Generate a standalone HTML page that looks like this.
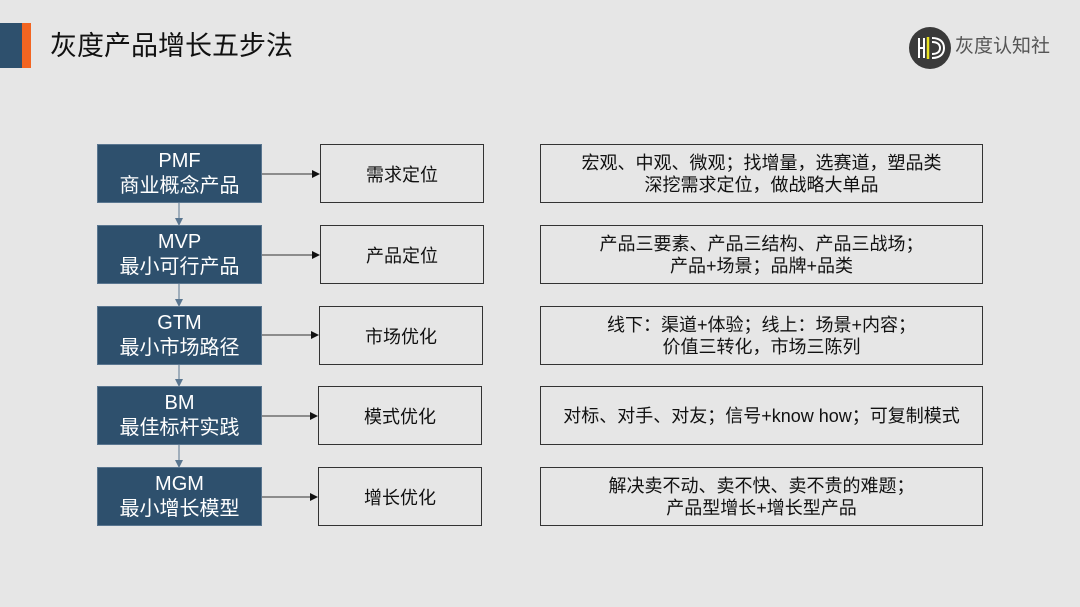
<!DOCTYPE html>
<html><head><meta charset="utf-8"><style>
body{margin:0;width:1080px;height:607px;background:#e6e6e6;position:relative;overflow:hidden;font-family:"Liberation Sans","Noto Sans CJK SC",sans-serif}
.a{position:absolute;box-sizing:border-box;display:flex;align-items:center;justify-content:center;text-align:center}
.d{background:#2e506d;color:#fff;font-size:20px;line-height:25px;left:97px;width:165px;height:59px;border:1px solid #5a7690}
.m{border:1.5px solid #333;font-size:18px;color:#111;width:164px;height:59px}
.r{border:1.5px solid #333;font-size:18px;line-height:22px;color:#111;left:540px;width:443px;height:59px}
</style></head><body>
<div style="position:absolute;left:0;top:23px;width:22px;height:45px;background:#2e506d"></div>
<div style="position:absolute;left:22px;top:23px;width:9px;height:45px;background:#f26522"></div>
<div style="position:absolute;left:50px;top:28px;font-size:27px;color:#111;line-height:36px">灰度产品增长五步法</div>
<svg style="position:absolute;left:908px;top:26px" width="44" height="44" viewBox="0 0 44 44">
<circle cx="22" cy="22" r="21" fill="#3a3a3a"/>
<g stroke="#fff" stroke-width="2" fill="none"><path d="M11 12v20M16 12v20M11 22h5"/><path d="M24 12c9 0 12 5 12 10s-3 10-12 10"/><path d="M24 16c5 0 8 2 8 6s-3 6-8 6"/></g>
<path d="M20 11v22" stroke="#e8e020" stroke-width="2.5"/></svg>
<div style="position:absolute;left:955px;top:35px;font-size:19px;color:#555;line-height:24px">灰度认知社</div>
<svg style="position:absolute;left:0;top:0" width="1080" height="607">
<defs><marker id="ar" markerWidth="8" markerHeight="8" refX="7" refY="4" orient="auto" markerUnits="userSpaceOnUse"><path d="M0 0L8 4L0 8z" fill="#111"/></marker>
<marker id="ag" markerWidth="8" markerHeight="8" refX="7" refY="4" orient="auto" markerUnits="userSpaceOnUse"><path d="M0 0L8 4L0 8z" fill="#5a7690"/></marker></defs>
<g stroke="#333" stroke-width="1" marker-end="url(#ar)">
<line x1="262" y1="174" x2="319" y2="174"/><line x1="262" y1="255" x2="319" y2="255"/><line x1="262" y1="335" x2="318" y2="335"/><line x1="262" y1="416" x2="317" y2="416"/><line x1="262" y1="497" x2="317" y2="497"/></g>
<g stroke="#5a7690" stroke-width="1" marker-end="url(#ag)">
<line x1="179" y1="203" x2="179" y2="225"/><line x1="179" y1="284" x2="179" y2="306"/><line x1="179" y1="365" x2="179" y2="386"/><line x1="179" y1="445" x2="179" y2="467"/></g>
</svg>
<div class="a d" style="top:144px">PMF<br>商业概念产品</div>
<div class="a d" style="top:225px">MVP<br>最小可行产品</div>
<div class="a d" style="top:306px">GTM<br>最小市场路径</div>
<div class="a d" style="top:386px">BM<br>最佳标杆实践</div>
<div class="a d" style="top:467px">MGM<br>最小增长模型</div>
<div class="a m" style="left:320px;top:144px">需求定位</div>
<div class="a m" style="left:320px;top:225px">产品定位</div>
<div class="a m" style="left:319px;top:306px">市场优化</div>
<div class="a m" style="left:318px;top:386px">模式优化</div>
<div class="a m" style="left:318px;top:467px">增长优化</div>
<div class="a r" style="top:144px">宏观、中观、微观；找增量，选赛道，塑品类<br>深挖需求定位，做战略大单品</div>
<div class="a r" style="top:225px">产品三要素、产品三结构、产品三战场；<br>产品+场景；品牌+品类</div>
<div class="a r" style="top:306px">线下：渠道+体验；线上：场景+内容；<br>价值三转化，市场三陈列</div>
<div class="a r" style="top:386px">对标、对手、对友；信号+know how；可复制模式</div>
<div class="a r" style="top:467px">解决卖不动、卖不快、卖不贵的难题；<br>产品型增长+增长型产品</div>
</body></html>
